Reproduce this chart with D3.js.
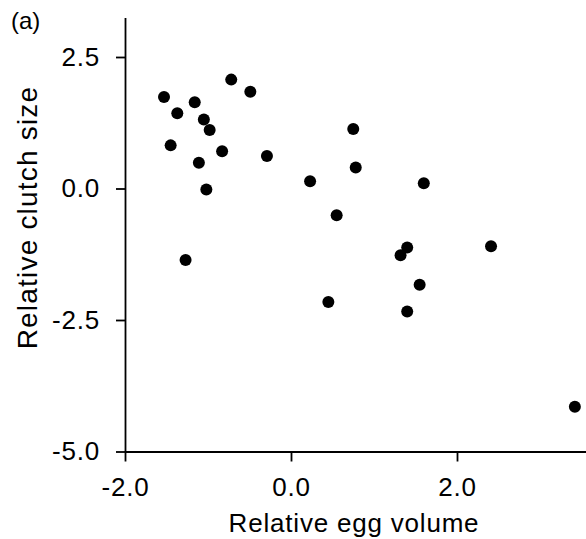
<!DOCTYPE html>
<html>
<head>
<meta charset="utf-8">
<script src="https://cdn.jsdelivr.net/npm/d3@7"></script>
<style>
  html, body { margin: 0; padding: 0; background: #fff; }
  svg { display: block; }
  text { font-family: "Liberation Sans", Arial, Helvetica, sans-serif; fill: #000; }
</style>
</head>
<body>
<svg id="chart" width="586" height="539"></svg>
<script>
// Data
const eggVolume = [-1.53, -0.72, -0.49, -1.16, -1.37, -1.05, -0.98, -1.45, -0.83, -0.29, -1.11, -1.02, -1.27,
                   0.75, 0.78, 0.23, 1.60, 0.55, 1.40, 1.32, 2.41, 1.55, 0.45, 1.40, 3.42];
const clutchSize = [1.74, 2.07, 1.84, 1.64, 1.43, 1.31, 1.11, 0.82, 0.71, 0.62, 0.49, -0.02, -1.36,
                    1.13, 0.40, 0.14, 0.10, -0.51, -1.12, -1.27, -1.10, -1.83, -2.16, -2.34, -4.15];
const xTicks = [-2.0, 0.0, 2.0];
const yTicks = [2.5, 0.0, -2.5, -5.0];
const xTitle = "Relative egg volume";
const yTitle = "Relative clutch size";
const panelLabel = "(a)";

const svg = d3.select("#chart");
const plotLeft = 125, plotRight = 586, plotBottom = 451.5;
const pxPerX = 83, pxPerY = 52.6;
const x = d3.scaleLinear().domain([-2, -2 + (plotRight - plotLeft) / pxPerX]).range([plotLeft, plotRight]);
const y = d3.scaleLinear().domain([-5, 3.25]).range([plotBottom, plotBottom - 8.25 * pxPerY]);

const fontSize = 26;
const fmt = d => d.toFixed(1); // plain hyphen-minus like the reference

const xAxis = svg.append("g")
  .attr("transform", `translate(0,${plotBottom})`)
  .call(d3.axisBottom(x).tickValues(xTicks).tickFormat(fmt).tickSizeInner(10).tickSizeOuter(0).tickPadding(16));
const yAxis = svg.append("g")
  .attr("transform", `translate(${plotLeft},0)`)
  .call(d3.axisLeft(y).tickValues(yTicks).tickFormat(fmt).tickSizeInner(9).tickSizeOuter(0).tickPadding(16));

[xAxis, yAxis].forEach(g => {
  g.select(".domain").attr("stroke", "#000").attr("stroke-width", 1.8);
  g.selectAll(".tick line").attr("stroke", "#000").attr("stroke-width", 1.8);
  g.selectAll(".tick text")
    .style("font-family", '"Liberation Sans", Arial, sans-serif')
    .style("font-size", fontSize + "px")
    .style("letter-spacing", "0.8px")
    .attr("fill", "#000");
});

// points
svg.append("g").selectAll("circle")
  .data(eggVolume.map((v, i) => [v, clutchSize[i]]))
  .join("circle")
  .attr("cx", d => x(d[0]))
  .attr("cy", d => y(d[1]))
  .attr("r", 6)
  .attr("fill", "#000");

// titles
svg.append("text")
  .attr("x", (plotLeft + 583) / 2)
  .attr("y", 532)
  .attr("text-anchor", "middle")
  .style("font-size", fontSize + "px")
  .style("letter-spacing", "0.8px")
  .text(xTitle);

svg.append("text")
  .attr("transform", `translate(37,217.5) rotate(-90)`)
  .attr("text-anchor", "middle")
  .style("font-size", "28px")
  .style("letter-spacing", "1.2px")
  .text(yTitle);

svg.append("text")
  .attr("x", 11)
  .attr("y", 29)
  .style("font-size", "24px")
  .text(panelLabel);
</script>
</body>
</html>
